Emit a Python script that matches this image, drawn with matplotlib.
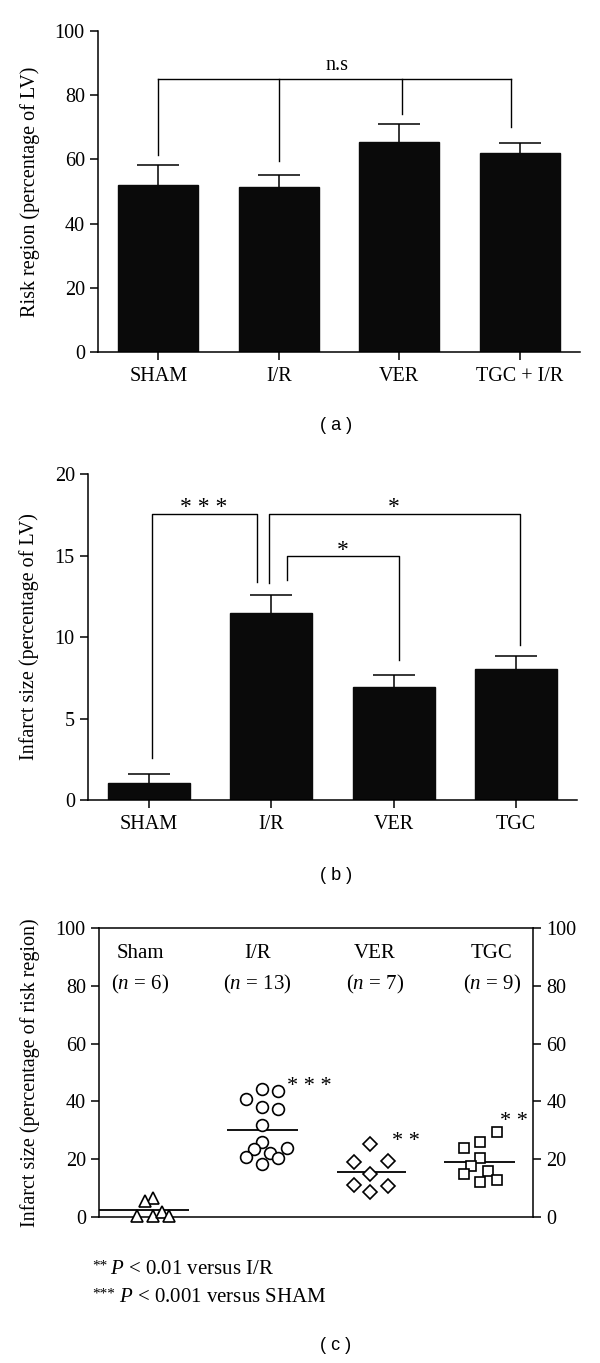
import numpy as np
import matplotlib.pyplot as plt

plt.rcParams['font.family'] = ['Liberation Serif', 'DejaVu Serif']
plt.rcParams['mathtext.fontset'] = 'custom'
plt.rcParams['mathtext.rm'] = 'Liberation Serif'
plt.rcParams['mathtext.it'] = 'Liberation Serif:italic'
plt.rcParams['font.size'] = 14
plt.rcParams['axes.linewidth'] = 1.1

# (a) risk region
groups_a = ['SHAM', 'I/R', 'VER', 'TGC + I/R']
risk_mean = [52.0, 51.5, 65.5, 62.0]
risk_err = [6.3, 3.6, 5.4, 3.2]

# (b) infarct size / LV
groups_b = ['SHAM', 'I/R', 'VER', 'TGC']
infarct_mean = [1.06, 11.5, 6.96, 8.02]
infarct_err = [0.52, 1.1, 0.72, 0.8]

# (c) infarct size / risk region, individual animals
groups_c = ['Sham', 'I/R', 'VER', 'TGC']
n_c = [6, 13, 7, 9]
sham_vals = [6.6, 5.5, 0.5, 0.5, 1.8, 0.5]
ir_vals = [44.2, 43.5, 40.9, 38.2, 37.5, 32.0, 25.8, 23.7, 23.9, 22.1, 20.7, 20.4, 18.4]
ver_vals = [25.3, 19.2, 19.4, 15.0, 11.2, 10.6, 8.6]
tgc_vals = [29.3, 25.9, 23.8, 20.3, 17.5, 14.8, 16.0, 12.9, 12.2]
stars_c = ['', '* * *', '* *', '* *']

# horizontal spread of the points inside each group (layout only)
sham_dx = [0.11, 0.04, -0.03, 0.11, 0.19, 0.25]
ir_dx = [0.04, 0.18, -0.10, 0.04, 0.18, 0.04, 0.04, -0.03, 0.25, 0.11, -0.10, 0.18, 0.04]
ver_dx = [-0.04, -0.18, 0.11, -0.04, -0.18, 0.11, -0.04]
tgc_dx = [0.04, -0.10, -0.24, -0.10, -0.18, -0.24, -0.03, 0.04, -0.10]

W, H = 600, 1363
fig = plt.figure(figsize=(W / 100, H / 100), dpi=100)


def box(left, right, top, bottom):
    return [left / W, 1 - bottom / H, (right - left) / W, (bottom - top) / H]


def bar_panel(ax, names, means, errs, ymax, step, width):
    x = np.arange(len(names))
    ax.bar(x, means, width=width, color='#0a0a0a', edgecolor='#0a0a0a', zorder=2)
    _, caps, _ = ax.errorbar(x, means, yerr=[np.zeros(len(x)), errs], fmt='none',
                             ecolor='k', elinewidth=1.1, capsize=15, capthick=1.1, zorder=3)
    caps[0].set_visible(False)
    ax.set_xlim(-0.5, 3.5)
    ax.set_ylim(0, ymax)
    ax.set_yticks(np.arange(0, ymax + step, step))
    ax.set_xticks(x)
    ax.set_xticklabels(names)
    for s in ['top', 'right']:
        ax.spines[s].set_visible(False)
    ax.tick_params(direction='out', length=6, width=1.1, labelsize=14.5)
    ax.tick_params(axis='x', pad=5)


def bracket(ax, x0, x1, y, d0, d1, label, ty, fs=17):
    ax.plot([x0, x0, x1, x1], [d0, y, y, d1], color='k', lw=1.0, clip_on=False)
    ax.text((x0 + x1) / 2, ty, label, ha='center', va='center', fontsize=fs)


# ---- (a)
ax_a = fig.add_axes(box(98, 580, 31, 352))
bar_panel(ax_a, groups_a, risk_mean, risk_err, 100, 20, 0.66)
ax_a.set_ylabel('Risk region (percentage of LV)', fontsize=14.5)
ax_a.yaxis.set_label_coords(-0.12, 0.5)
ns_x = [0, 1, 2.02, 2.93]
ns_low = [61.4, 59.5, 74.0, 70.0]
ax_a.plot([ns_x[0], ns_x[-1]], [85, 85], color='k', lw=1.0)
for xx, lo in zip(ns_x, ns_low):
    ax_a.plot([xx, xx], [lo, 85], color='k', lw=1.0)
ax_a.text(1.48, 86.3, 'n.s', ha='center', va='bottom', fontsize=14.5)

# ---- (b)
ax_b = fig.add_axes(box(88, 577, 474, 800))
bar_panel(ax_b, groups_b, infarct_mean, infarct_err, 20, 5, 0.67)
ax_b.set_ylabel('Infarct size (percentage of LV)', fontsize=14.5)
ax_b.yaxis.set_label_coords(-0.1, 0.5)
bracket(ax_b, 0.02, 0.88, 17.56, 2.56, 13.35, '* * *', 17.95)
bracket(ax_b, 0.98, 3.03, 17.56, 13.3, 9.48, '*', 17.95)
bracket(ax_b, 1.13, 2.04, 15.0, 13.5, 8.6, '*', 15.3)

# ---- (c)
ax_c = fig.add_axes(box(99, 533, 928, 1217))
vals_c = [sham_vals, ir_vals, ver_vals, tgc_vals]
dx_c = [sham_dx, ir_dx, ver_dx, tgc_dx]
markers = ['^', 'o', 'D', 's']
msizes = [8.5, 8.5, 7, 7.5]
line_span = [(-0.35, 0.42), (0.74, 1.35), (1.68, 2.27), (2.59, 3.20)]
star_pos = [(0, 0), (1.25, 45.0), (2.15, 26.0), (3.07, 33.0)]
for i, (vals, dx) in enumerate(zip(vals_c, dx_c)):
    xs = i + np.array(dx)
    ax_c.plot(xs, vals, linestyle='none', marker=markers[i], ms=msizes[i],
              mfc='white', mec='k', mew=1.2, zorder=3, clip_on=False)
    ax_c.hlines(np.mean(vals), line_span[i][0], line_span[i][1], color='k', lw=1.3, zorder=2)
    ax_c.text(i, 91.2, groups_c[i], ha='center', va='center', fontsize=15)
    ax_c.text(i, 80.5, r'($n$ = %d)' % n_c[i], ha='center', va='center', fontsize=15)
    if stars_c[i]:
        ax_c.text(star_pos[i][0], star_pos[i][1], stars_c[i], ha='left', va='center', fontsize=16)
ax_c.set_xlim(-0.35, 3.35)
ax_c.set_ylim(0, 100)
ax_c.set_yticks(np.arange(0, 101, 20))
ax_c.set_xticks([])
ax_c.tick_params(axis='y', direction='out', length=6, width=1.1, labelsize=14.5,
                 left=True, right=True, labelleft=True, labelright=True)
ax_c.set_ylabel('Infarct size (percentage of risk region)', fontsize=14.5)
ax_c.yaxis.set_label_coords(-0.135, 0.5)

# footnotes: small raised stars, then the text with italic P
notes = [('**', r'$P$ < 0.01 versus I/R', 1270, 110),
         ('***', r'$P$ < 0.001 versus SHAM', 1298, 119)]
for st, txt, y, xt in notes:
    fig.text(92 / W, 1 - (y - 4) / H, st, ha='left', va='center', fontsize=11)
    fig.text(xt / W, 1 - y / H, txt, ha='left', va='center', fontsize=15)

for lab, y in zip(['( a )', '( b )', '( c )'], [425, 876, 1345]):
    fig.text(336 / W, 1 - y / H, lab, ha='center', va='center', fontsize=13,
             family='Liberation Sans')

fig.savefig('out.png', dpi=100)
